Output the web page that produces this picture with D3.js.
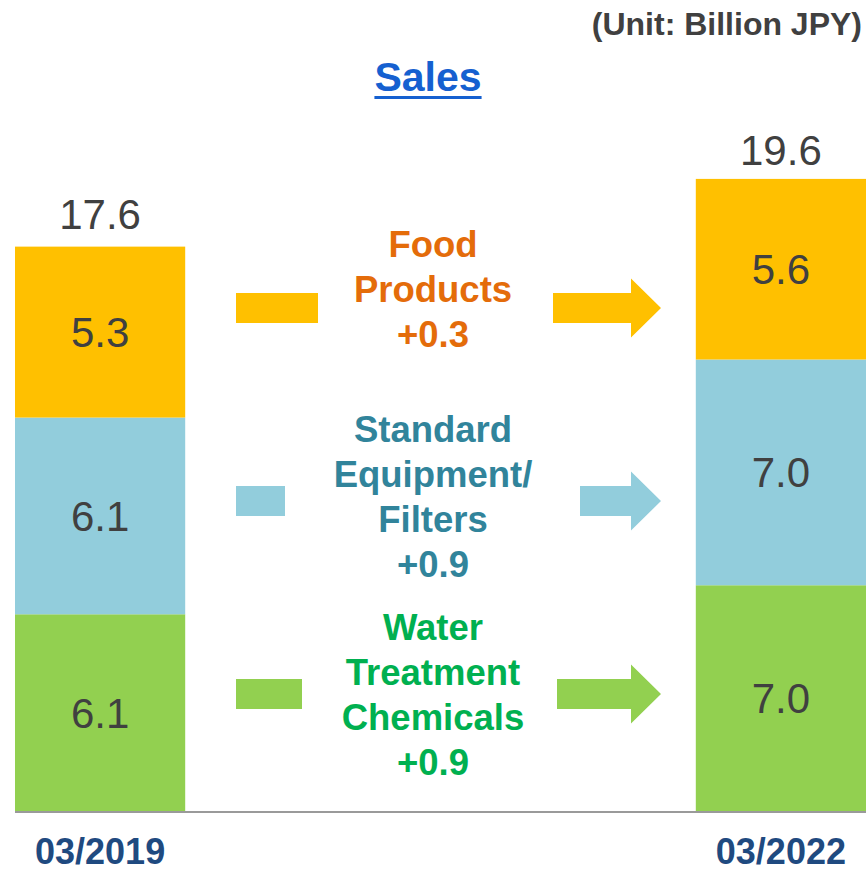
<!DOCTYPE html>
<html>
<head>
<meta charset="utf-8">
<script src="https://cdn.jsdelivr.net/npm/d3@7"></script>
<style>
  html, body { margin: 0; padding: 0; background: #fff; }
  svg { display: block; font-family: "Liberation Sans", Arial, sans-serif; }
</style>
</head>
<body>
<svg id="chart" width="866" height="871"></svg>
<script>
// data
const periods = ['03/2019', '03/2022'];
const segments = ['Water Treatment Chemicals', 'Standard Equipment/Filters', 'Food Products'];
const water = [6.1, 7.0];
const equipment = [6.1, 7.0];
const food = [5.3, 5.6];
const totals = [17.6, 19.6];
const changeLines = [
  ['Water', 'Treatment', 'Chemicals', '+0.9'],
  ['Standard', 'Equipment/', 'Filters', '+0.9'],
  ['Food', 'Products', '+0.3']
];

const fills = ['#92D050', '#92CDDC', '#FFC000'];
const textColors = ['#00B050', '#31849B', '#E46C0A'];

const svg = d3.select('#chart');
const baseY = 811;

const x = d3.scaleBand().domain(periods).range([15, 866]).paddingInner(0.75).paddingOuter(0);
const y = d3.scaleLinear().domain([0, 20]).range([baseY, baseY - 645]);

const table = periods.map((p, i) => ({period: p, water: water[i], equipment: equipment[i], food: food[i]}));
const stack = d3.stack().keys(['water', 'equipment', 'food'])(table);

// bars
const layer = svg.selectAll('.layer')
  .data(stack)
  .enter().append('g')
  .attr('class', 'layer')
  .attr('fill', (d, i) => fills[i]);

layer.selectAll('rect')
  .data(d => d)
  .enter().append('rect')
  .attr('x', d => x(d.data.period))
  .attr('y', d => y(d[1]))
  .attr('width', x.bandwidth())
  .attr('height', d => y(d[0]) - y(d[1]));

layer.selectAll('text')
  .data(d => d)
  .enter().append('text')
  .attr('x', d => x(d.data.period) + x.bandwidth() / 2)
  .attr('y', d => (y(d[0]) + y(d[1])) / 2 + 15)
  .attr('text-anchor', 'middle')
  .attr('font-size', 42)
  .attr('fill', '#404040')
  .text(d => (d[1] - d[0]).toFixed(1));

// totals
svg.selectAll('.total')
  .data(totals)
  .enter().append('text')
  .attr('class', 'total')
  .attr('x', (d, i) => x(periods[i]) + x.bandwidth() / 2)
  .attr('y', d => y(d) - 14)
  .attr('text-anchor', 'middle')
  .attr('font-size', 42)
  .attr('fill', '#404040')
  .text(d => d.toFixed(1));

// baseline
svg.append('line')
  .attr('x1', 15).attr('x2', 866)
  .attr('y1', baseY + 1).attr('y2', baseY + 1)
  .attr('stroke', '#9a9a9a')
  .attr('stroke-width', 2);

// category labels
svg.selectAll('.cat')
  .data(periods)
  .enter().append('text')
  .attr('class', 'cat')
  .attr('x', d => x(d) + x.bandwidth() / 2)
  .attr('y', 864)
  .attr('text-anchor', 'middle')
  .attr('font-size', 36)
  .attr('font-weight', 'bold')
  .attr('fill', '#1F4A80')
  .text(d => d);

// title & unit
const title = svg.append('text')
  .attr('x', 428).attr('y', 91)
  .attr('text-anchor', 'middle')
  .attr('font-size', 41)
  .attr('font-weight', 'bold')
  .attr('fill', '#1560D0')
  .text('Sales');
const tb = title.node().getBBox();
svg.append('rect')
  .attr('x', tb.x).attr('y', 96)
  .attr('width', tb.width).attr('height', 3)
  .attr('fill', '#1560D0');

svg.append('text')
  .attr('x', 862).attr('y', 35)
  .attr('text-anchor', 'end')
  .attr('font-size', 32)
  .attr('font-weight', 'bold')
  .attr('fill', '#404040')
  .text('(Unit: Billion JPY)');

// change annotations: dash -> text -> arrow
const rows = [
  {cy: 694, firstBaseline: 640, dashEnd: 302, arrowStart: 557},
  {cy: 501, firstBaseline: 442, dashEnd: 285, arrowStart: 580},
  {cy: 308, firstBaseline: 257, dashEnd: 318, arrowStart: 553}
];
const dashStart = 236, headStart = 631, tip = 661, shaftH = 30, headH = 59;

rows.forEach((r, i) => {
  svg.append('rect')
    .attr('x', dashStart).attr('y', r.cy - shaftH / 2)
    .attr('width', r.dashEnd - dashStart).attr('height', shaftH)
    .attr('fill', fills[i]);

  svg.append('path')
    .attr('d', d3.line()([
      [r.arrowStart, r.cy - shaftH / 2], [headStart, r.cy - shaftH / 2],
      [headStart, r.cy - headH / 2], [tip, r.cy],
      [headStart, r.cy + headH / 2], [headStart, r.cy + shaftH / 2],
      [r.arrowStart, r.cy + shaftH / 2]
    ]) + 'Z')
    .attr('fill', fills[i]);

  const t = svg.append('text')
    .attr('text-anchor', 'middle')
    .attr('font-size', 36.5)
    .attr('font-weight', 'bold')
    .attr('fill', textColors[i]);
  t.selectAll('tspan')
    .data(changeLines[i])
    .enter().append('tspan')
    .attr('x', 433)
    .attr('y', (d, j) => r.firstBaseline + j * 45)
    .text(d => d);
});
</script>
</body>
</html>
